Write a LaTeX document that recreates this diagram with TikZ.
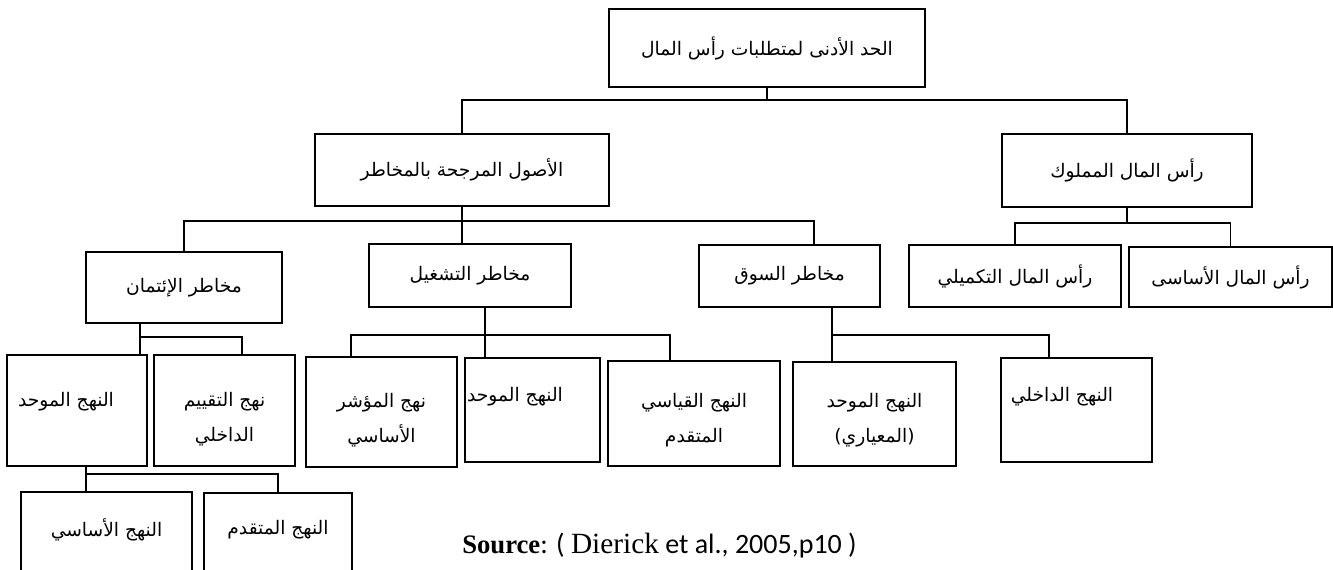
\documentclass[tikz,border=0pt]{standalone}
\usepackage{fontspec}
\TeXXeTstate=1
\newfontfamily\arabicfont[Script=Arabic]{DejaVu Sans}
\newfontfamily\srcserif{Liberation Serif}
\newfontfamily\srcsans{Carlito}
\newcommand\AR[1]{{\arabicfont\beginR #1\endR}}
\begin{document}
\begin{tikzpicture}[x=0.75pt,y=-0.75pt,
  box/.style={draw, line width=0.8pt, inner sep=0pt, align=center,
    font=\fontsize{14}{26}\selectfont},
  txt/.style={inner sep=0pt, align=center, font=\fontsize{14}{26}\selectfont},
  link/.style={line width=1.2pt}]
\useasboundingbox (0,0) rectangle (1333,569);

% level 0
\node[box, minimum width=237pt, minimum height=58.5pt] (top) at (767,48) {\AR{الحد الأدنى لمتطلبات رأس المال}};
% level 1
\node[box, minimum width=220.5pt, minimum height=54pt] (rw) at (462,170) {\AR{الأصول المرجحة بالمخاطر}};
\node[box, minimum width=187.5pt, minimum height=54.75pt] (own) at (1127,170.5) {\AR{رأس المال المملوك}};
% level 2
\node[box, minimum width=147pt, minimum height=53.25pt] (credit) at (184,287.5) {\AR{مخاطر الإئتمان}};
\node[box, minimum width=151.5pt, minimum height=47.25pt] (oper) at (470,275.5) {\AR{مخاطر التشغيل}};
\node[box, minimum width=135.75pt, minimum height=46.5pt] (market) at (789.5,276) {\AR{مخاطر السوق}};
\node[box, minimum width=159pt, minimum height=46.5pt] (supp) at (1015,276) {\AR{رأس المال التكميلي}};
\node[box, minimum width=152.25pt, minimum height=45pt] (basic) at (1230.5,277) {\AR{رأس المال الأساسى}};
% level 3
\node[box, minimum width=105pt, minimum height=83.25pt] (cu) at (77,410.5) {};
\node[box, minimum width=105.75pt, minimum height=83.25pt] (irb) at (224.5,410.5) {};
\node[box, minimum width=113.25pt, minimum height=82.5pt] (bia) at (381.5,412) {};
\node[box, minimum width=101.25pt, minimum height=78pt] (ou) at (532.5,410) {};
\node[box, minimum width=129pt, minimum height=78.75pt] (ama) at (694,413.5) {};
\node[box, minimum width=122.25pt, minimum height=78pt] (ms) at (874.5,414) {};
\node[box, minimum width=113.25pt, minimum height=78pt] (mi) at (1076.5,410) {};
% level 4
\node[box, minimum width=128.25pt, minimum height=62.25pt] (fb) at (106.5,533.5) {};
\node[box, minimum width=111pt, minimum height=61.5pt] (fa) at (278,534) {};

% texts of the tall boxes
\node[txt] (cu-t) at (66,402) {\AR{النهج الموحد}};
\node[txt] (irb-t) at (224.5,419.5) {\AR{نهج التقييم}\\\AR{الداخلي}};
\node[txt] (bia-t) at (381.5,420) {\AR{نهج المؤشر}\\\AR{الأساسي}};
\node[txt] (ou-t) at (515,397) {\AR{النهج الموحد}};
\node[txt] (ama-t) at (694,420) {\AR{النهج القياسي}\\\AR{المتقدم}};
\node[txt] (ms-t) at (874.5,420) {\AR{النهج الموحد}\\\AR{(المعياري)}};
\node[txt] (mi-t) at (1062,397) {\AR{النهج الداخلي}};
\node[txt] (fb-t) at (106.5,530) {\AR{النهج الأساسي}};
\node[txt] (fa-t) at (278,530) {\AR{النهج المتقدم}};

% source
\node[inner sep=0pt, anchor=base west] (src) at (462,553)
  {{\srcserif\bfseries\fontsize{20}{24}\selectfont Source}{\srcsans\fontsize{21}{24}\selectfont: ( }{\srcserif\fontsize{22}{24}\selectfont Dierick}{\srcsans\fontsize{21}{24}\selectfont\ et al., 2005,p10 )}};

% bus levels
\coordinate (bus1) at (0,100);
\coordinate (bus2) at (0,221);
\coordinate (ownbus) at (0,223);
\coordinate (cbus) at (0,337);
\coordinate (obus) at (0,335);
\coordinate (mbus) at (0,335);
\coordinate (ubus) at (0,474);

% connectors
\draw[link] (top.south) -- (top.south |- bus1);
\draw[link] (rw.north) |- (own.north |- bus1) -- (own.north);

\draw[link] (rw.south) -- (rw.south |- oper.north);
\draw[link] (credit.north) |- ([xshift=18.4pt]market.north |- bus2) -- ([xshift=18.4pt]market.north);

\draw[link] (own.south) -- (own.south |- ownbus);
\draw[link] (supp.north) |- (basic.north |- ownbus) -- (basic.north);

\draw[link] ([xshift=-33pt]credit.south) -- ([xshift=-33pt]credit.south |- cu.north);
\draw[link] ([xshift=-33pt]credit.south |- cbus) -| ([xshift=13pt]irb.north);

\draw[link] ([xshift=11.25pt]oper.south) -- ([xshift=11.25pt]oper.south |- ou.north);
\draw[link] ([xshift=-23pt]bia.north) |- ([xshift=-18pt]ama.north |- obus) -- ([xshift=-18pt]ama.north);

\draw[link] ([xshift=32pt]market.south) -- ([xshift=32pt]market.south |- ms.north);
\draw[link] ([xshift=32pt]market.south |- mbus) -| ([xshift=-20.6pt]mi.north);

\draw[link] ([xshift=6.75pt]cu.south) -- ([xshift=6.75pt]cu.south |- fb.north);
\draw[link] ([xshift=6.75pt]cu.south |- ubus) -| (fa.north);
\end{tikzpicture}
\end{document}
